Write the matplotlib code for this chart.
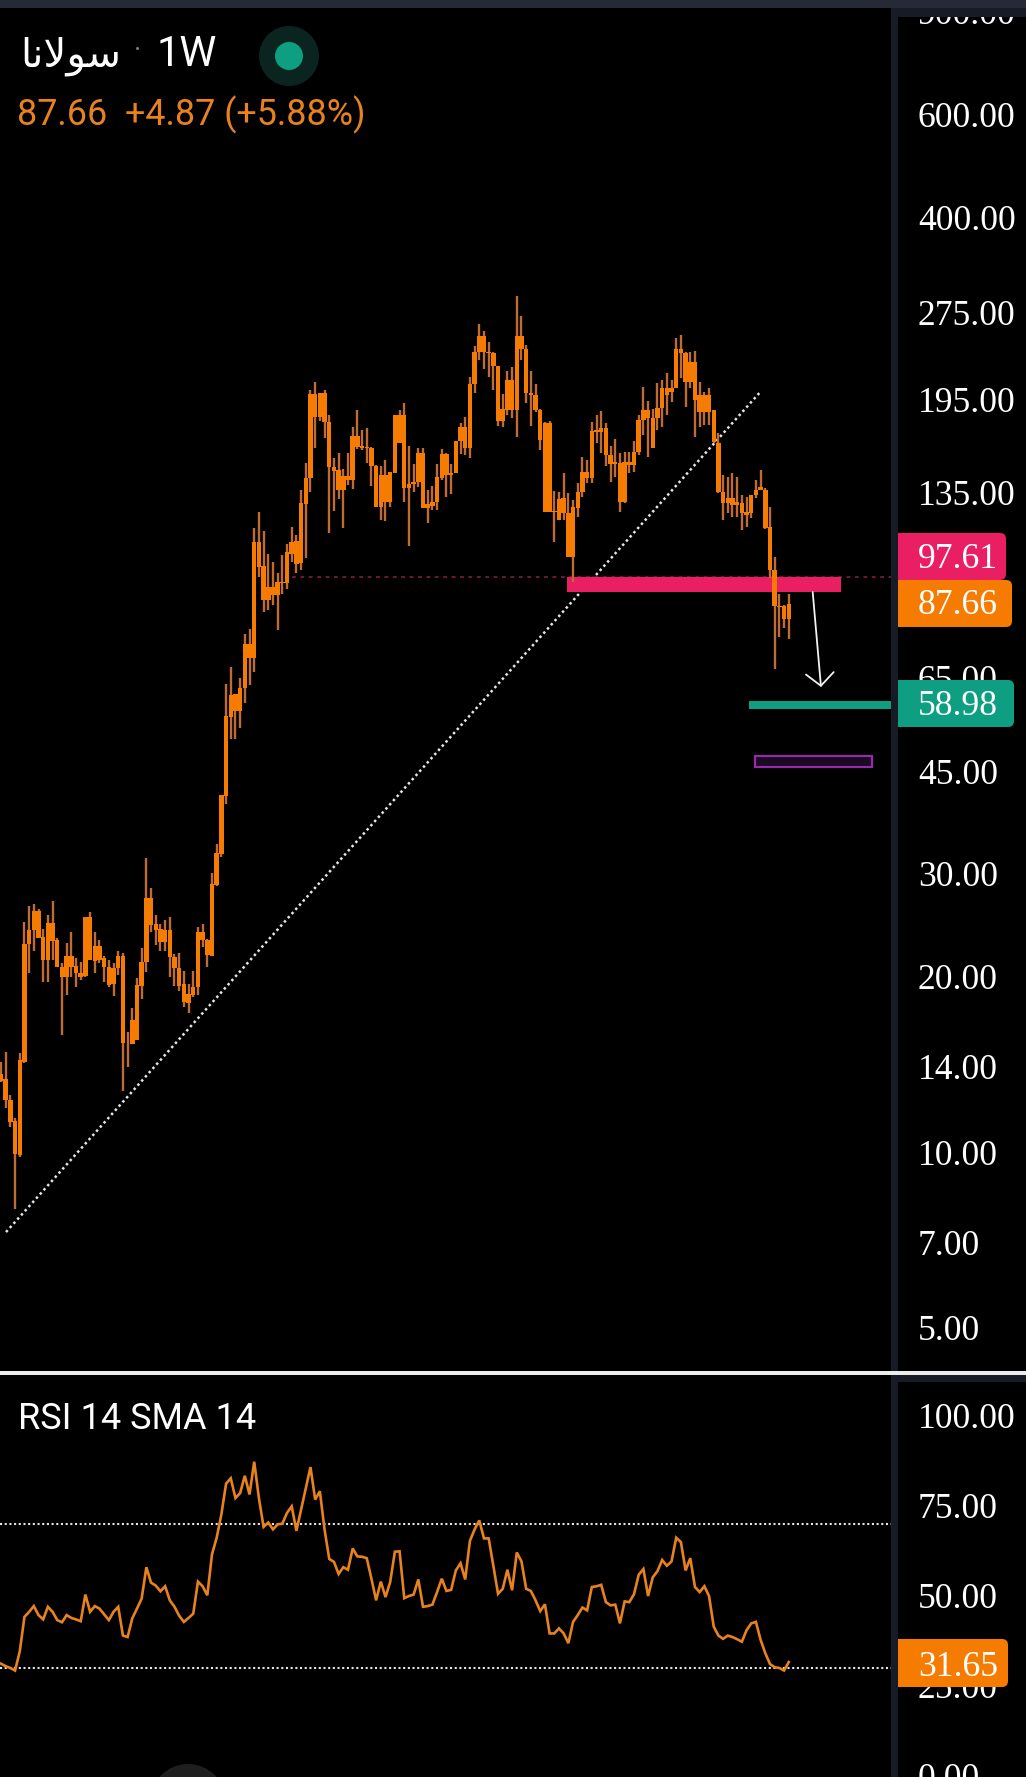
import numpy as np
import matplotlib
matplotlib.use("Agg")
import matplotlib.pyplot as plt
from matplotlib.patches import Rectangle, FancyBboxPatch, Circle
from matplotlib.ticker import NullLocator

highs = [14.3,14.87,12.55,11.43,14.82,24.84,26.4,26.63,26.08,24.1,
25.5,26.99,23.26,21.08,22.87,23.8,21.5,21.2,25.34,25.77,
23.88,23.1,21.7,21.36,21.08,22.14,21.97,16.05,17.65,19.87,
22.36,31.9,28.33,25.5,24.6,25.0,25.34,21.87,21.93,20.48,
19.42,20.48,24.35,24.6,23.17,30.1,33.7,40.9,63.4,67.8,
61.0,65.0,77.3,78.8,117.2,125.1,116.1,106.1,102.7,98.4,
105.3,110.0,117.9,114.0,136.6,151.4,202,208.9,200.1,202,
183.2,154.5,158,147.9,157.8,175,186.8,172.7,173.8,161.7,
150.4,149.9,153.4,146.5,183.2,186.8,192.3,162.1,151,160.7,
161,136.6,138.5,151,160,157.8,151,165.5,177.6,181.9,
213,240.4,262.5,254.8,244,235,222.2,199.3,218,221.3,
292.9,271,241.5,218,207,187.9,178.3,178.9,135.6,135.1,
146,134.9,131,139.9,155.5,153.4,178.5,183.2,186.4,177.3,
161.9,166.6,157.6,158.7,158.7,165.6,183.2,205,193.7,187.6,
207.7,210.5,216.6,210.5,248,251.1,235.4,235.4,236.3,209,
201,203.7,187.1,170.5,144.6,143.7,145.6,143.7,133.6,132.7,
133.6,141.6,147.5,137.2,127.3,104.8,90.5,86.6,90.5]

body_tops = [13.63,13.35,12.3,11.33,14.39,22.75,24.04,25.94,25.94,23.35,
24.75,24.75,23.1,20.8,21.7,21.7,20.86,20.32,25.28,25.25,
22.57,22.57,21.5,20.75,20.67,21.7,21.7,15.4,16.86,19.35,
21.22,27.24,27.24,24.6,24.1,24.04,24.04,21.58,20.67,19.42,
18.67,19.22,23.88,23.8,23.1,28.8,32.5,40.9,55.9,60.7,
61.0,62.4,74.3,74.3,111.1,111.1,100.9,92.9,92.9,94.9,
94.9,106.8,111.1,111.5,129.3,142.7,199.3,199.3,200.1,200.1,
178.3,149.5,147.6,144.2,144.2,168.5,168.5,162.1,161.7,161,
150,144.6,144.6,146.5,183.2,183.2,183.2,139.8,140.8,157.8,
157.8,128.8,130.1,143.3,157.4,157.4,145.9,165.5,175,175,
207.5,235,250.3,250.3,235,234.1,222.2,187.9,210.8,210.8,
250.3,250.3,238.2,200.1,198.1,187.2,177.3,177.3,125.3,131.8,
132,124.7,127.6,135.4,146.5,146.5,172.3,172.8,174,174,
156.6,152.5,151.5,152.5,152.5,158.7,179.7,187.1,187.1,180.9,
188.4,203.7,203.7,203.7,237.5,237.5,233.8,226.3,226.3,198.4,
198.4,198.4,186.6,164.2,135.4,132,132,130.2,129.4,125.2,
133.6,136.3,138.1,136.6,117.6,99.6,86.3,86.3,87]

body_bots = [13.25,12.3,11.28,9.93,9.9,14.3,22.75,24.04,23.26,21.36,
21.36,23.05,20.8,20.0,20.0,20.75,20.32,20.0,20.05,21.36,
21.3,21.36,20.75,19.35,19.42,20.67,15.4,15.37,15.33,15.55,
19.3,21.22,24.51,24.04,22.95,22.95,21.58,20.67,19.28,18.12,
18.05,18.6,19.22,23.1,21.78,21.7,28.7,32.4,40.8,55.7,
57.0,57.0,62.4,70.3,70.3,100.8,88.3,88.3,90.1,90.1,
94.5,94.5,106.1,102.0,102.3,128.8,142.7,181.9,181.9,178.3,
149.5,147.2,136.6,136.6,141.7,141.7,161.7,161,160.7,149.9,
127.5,127.5,130.1,130.1,145.9,164.2,137.5,137.5,139.8,140.8,
127.1,127.1,128.1,130.1,142.7,144.6,144.6,145.9,165.5,160.7,
160.7,207.5,235,235,234.1,222.2,178.9,178.9,186.8,186.8,
186.8,238.2,200.1,198.1,186.8,166.3,125,125,125,121.3,
124.4,104.5,104.5,126.8,135.4,142.7,142.7,171.6,171.6,156.6,
151.1,151.1,130.2,130.2,150.5,150.5,158.7,179.7,180.9,160.8,
180.9,188.4,198.4,200.5,203.7,233.8,209,209,194.5,185.6,
185.6,185.6,164.9,135.4,129.4,129.4,128.5,128.5,124.4,123.5,
124.4,133.6,136.3,117.2,99.4,86.3,85.8,82.1,82.1]

lows = [13.22,11.9,11.04,8.0,9.82,14.24,20.27,22.14,23.26,19.61,
19.61,21.36,20.8,15.9,18.6,20.0,19.22,19.74,20.0,21.36,
20.27,21.13,19.61,19.22,18.55,20.14,12.76,14.0,15.33,15.55,
18.29,20.4,23.88,22.65,22.14,22.14,19.95,19.28,18.93,17.72,
17.31,18.48,18.6,22.45,20.8,21.7,28.6,32.06,39.5,51.1,
51.1,53.3,58.8,63.2,66.5,96.6,84.3,85.0,86.7,78.6,
90.4,92.3,102.7,98.2,99.4,104.4,135.4,161.0,178.9,167.2,
115.2,125.6,131.8,117.4,139,136.8,160.2,159.6,151.8,138.7,
127.5,121.3,120.5,127.5,145.9,164.2,130.1,109.5,135.1,137.9,
127.1,119.6,126.2,126.2,141.7,132.4,134.4,145.9,157.4,156.7,
154.5,199.7,227.4,220.1,213,202.3,175.4,175,183.2,181.2,
167.9,228,191.8,175.4,185.6,159.6,125,125,111.1,121.3,
121.1,104.5,94.9,122.7,132.7,139.9,139.9,163.9,157.6,149.9,
140.9,143.4,125.2,129.7,145.6,146.5,156.6,169.4,155.5,160.8,
172.8,174.7,183.2,193.2,203.7,211.9,189.4,203.7,167.8,174.9,
176.1,176.1,164.2,134.5,121.1,124.4,122.7,122.7,116.4,117.9,
121.9,132,136.3,116.7,96.2,67.2,76.4,79,75.6]

rsi = [31.2,30.5,30.0,29.3,34.6,44.2,45.6,47.2,44.7,43.5,
47.0,45.6,43.3,42.7,44.7,43.9,43.5,43.0,50.4,45.6,
47.2,46.5,44.9,43.3,45.6,47.0,39.0,38.6,43.8,46.5,
49.3,58.0,53.7,52.9,51.3,52.7,48.8,47.0,44.5,42.8,
43.9,45.1,54.0,52.7,50.2,61.6,66.2,72.7,81.2,82.7,
77.2,78.6,83.4,78.2,87.3,77.2,69.2,70.4,68.5,69.9,
70.1,73.1,74.9,68.1,74.0,80.0,85.8,76.8,79.1,68.5,
60.3,59.5,56.1,58.0,57.3,63.2,61.0,60.9,60.5,54.8,
48.8,54.0,49.7,53.9,62.3,62.4,49.4,50.0,50.4,54.6,
47.0,47.2,47.6,51.1,54.8,51.4,51.7,57.1,59.1,54.6,
65.3,68.5,71.0,66.0,66.0,58.4,50.6,52.0,57.3,51.6,
62.1,59.6,52.0,51.4,48.8,45.8,47.7,39.6,39.6,41.0,
39.6,36.9,42.8,44.7,46.8,46.0,52.5,52.7,53.1,48.3,
47.4,47.6,42.4,48.5,48.3,50.5,55.9,57.5,50.0,55.2,
56.9,60.0,58.4,59.6,66.2,65.0,57.1,60.5,52.5,51.1,
52.7,50.0,41.5,39.0,38.1,39.0,38.6,38.0,37.3,40.5,
42.4,42.8,37.8,34.1,31.1,30.2,30.0,29.3,31.65]

price_ticks = [900, 600, 400, 275, 195, 135, 65, 45, 30, 20, 14, 10, 7, 5]
price_labels = ["900.00","600.00","400.00","275.00","195.00","135.00","65.00","45.00",
                "30.00","20.00","14.00","10.00","7.00","5.00"]
rsi_ticks = [100, 75, 50, 25, 0]
rsi_labels = ["100.00","75.00","50.00","25.00","0.00"]
rsi_levels = [70, 30]
trend_x = [1.07, 161.9]
trend_p = [7.3, 200.6]
zone_red = (96.9, 91.2)      # price band of the pink box
zone_green = (59.3, 57.5)
zone_purple = (47.7, 45.7)
red_line = 96.9
tag_red, tag_last, tag_green, tag_rsi = "97.61", "87.66", "58.98", "31.65"

W, H = 1026, 1777
ORANGE = "#F57C00"
WICK = "#BE6C33"
RSI_C = "#E8821E"
PINK = "#E91E63"
GREEN = "#0E9F83"
BAND = "#161B26"
AX_FONT = "Liberation Serif"
AX_SIZE = 25.6

fig = plt.figure(figsize=(W/100, H/100), dpi=100, facecolor="black")
def pane(x0, y0, x1, y1, z=1):
    return fig.add_axes([x0/W, 1-y1/H, (x1-x0)/W, (y1-y0)/H], zorder=z)

STEP, X0, RIGHT = 4.689, 1.0, 890.7
xlim = ((0-X0)/STEP, (RIGHT-X0)/STEP)
def price_at(y):
    return 5*np.exp((1328-y)/253.5)
def rsi_at(y):
    return 100-(y-1416)/3.6

# price pane
ax = pane(0, 8, RIGHT, 1371)
ax.set_facecolor("black")
ax.set_yscale("log")
ax.set_xlim(*xlim)
ax.set_ylim(price_at(1371), price_at(8))
idx = np.arange(len(highs))
assert len(highs)==len(lows)==len(body_tops)==len(body_bots)==len(rsi)==169

ax.plot(trend_x, trend_p, color="#E6E6E6", lw=1.8, ls=(0,(1,1.25)), zorder=1)
ax.hlines(red_line, (292-X0)/STEP, xlim[1], color="#8C1F4A", lw=1.1, ls=(0,(2.5,3.0)), zorder=1)
ax.bar((567-X0)/STEP, zone_red[0]-zone_red[1], bottom=zone_red[1], width=(841-567)/STEP, align="edge", color=PINK, lw=0, zorder=2)
ax.bar((749-X0)/STEP, zone_green[0]-zone_green[1], bottom=zone_green[1], width=(RIGHT-749)/STEP, align="edge", color=GREEN, lw=0, zorder=2)
ax.bar((755-X0)/STEP, zone_purple[0]-zone_purple[1], bottom=zone_purple[1], width=(872-755)/STEP, align="edge",
       facecolor="#1C0A24", edgecolor="#9C27B0", lw=1.5, zorder=2)
ax.vlines(idx, lows, highs, color=WICK, lw=1.7, zorder=3)
ax.bar(idx, np.array(body_tops)-np.array(body_bots), bottom=body_bots, width=0.95, color=ORANGE, lw=0, zorder=4)
ax.annotate("", xy=((821-X0)/STEP, price_at(687)), xytext=((812.7-X0)/STEP, price_at(592)),
            arrowprops=dict(arrowstyle="->,head_length=0.45,head_width=0.5", mutation_scale=20,
                            color="#F2F2F2", lw=1.3, shrinkA=0, shrinkB=0), zorder=5)

ax.yaxis.tick_right()
ax.set_yticks(price_ticks, labels=price_labels, fontfamily=AX_FONT, fontsize=AX_SIZE, color="white")
ax.yaxis.set_minor_locator(NullLocator())
ax.tick_params(axis="y", which="both", length=0, pad=19.5)
ax.set_xticks([])
for s in ax.spines.values():
    s.set_visible(False)

# RSI pane
ar = pane(0, 1375, RIGHT, H)
ar.set_facecolor("black")
ar.set_xlim(*xlim)
ar.set_ylim(rsi_at(H), rsi_at(1375))
for lv in rsi_levels:
    ar.axhline(lv, color="#E6E6E6", lw=1.5, ls=(0,(1,1.25)), zorder=1)
ar.plot(idx, rsi, color=RSI_C, lw=1.9, zorder=3, solid_joinstyle="miter")
ar.yaxis.tick_right()
ar.set_yticks(rsi_ticks, labels=rsi_labels, fontfamily=AX_FONT, fontsize=AX_SIZE, color="white")
ar.tick_params(axis="y", length=0, pad=19.5)
ar.set_xticks([])
for s in ar.spines.values():
    s.set_visible(False)

# screen furniture on a pixel layer
ov = fig.add_axes([0, 0, 1, 1], zorder=10)
ov.set_xlim(0, W); ov.set_ylim(H, 0); ov.axis("off"); ov.patch.set_alpha(0)
def tag(x1, y0, y1, color, text, ty):
    p = FancyBboxPatch((880, y0+6), x1-880-6, y1-y0-12, boxstyle="round,pad=6,rounding_size=6",
                       fc=color, ec="none", zorder=2)
    ov.add_patch(p)
    p.set_clip_path(Rectangle((898, 0), W-898, H, transform=ov.transData))
    ov.text(918, ty, text, family=AX_FONT, fontsize=AX_SIZE, color="white", va="center_baseline", ha="left", zorder=5)
ov.add_patch(Circle((188, 1802), 38, fc="#1E1E1E", ec="none", zorder=1))
tag(1006, 533, 580, PINK, tag_red, 555.5)
tag(1012, 580, 627, ORANGE, tag_last, 601.5)
tag(1014, 680, 727, GREEN, tag_green, 702.5)
tag(1008, 1639, 1687, ORANGE, tag_rsi, 1663)
ov.add_patch(Rectangle((RIGHT, 8), 898-RIGHT, H, fc=BAND, ec="none", zorder=3))
ov.add_patch(Rectangle((0, 0), W, 8, fc="#252A36", ec="none", zorder=3))
ov.add_patch(Rectangle((898, 8), W-898, 9, fc=BAND, ec="none", zorder=3))
ov.add_patch(Rectangle((898, 1372), W-898, 10, fc=BAND, ec="none", zorder=3))
ov.add_patch(Rectangle((0, 1371), W, 3.5, fc="#EDEDED", ec="none", zorder=4))

ov.text(20, 56, "\uFE8E\uFEE7\uFEFB\uFEEE\uFEB3", family="DejaVu Sans", fontsize=29, color="white", va="center", ha="left")
ov.text(138, 50, "·", family="Roboto", fontsize=20, color="#787B86", va="center", ha="center")
ov.text(157, 54, "1W", family="Roboto", fontsize=30, color="white", va="center", ha="left")
ov.add_patch(Circle((289, 56), 30, fc="#0A2420", ec="none", zorder=1))
ov.add_patch(Circle((289, 56), 14, fc=GREEN, ec="none", zorder=2))
ov.text(17, 115, "87.66  +4.87 (+5.88%)", family="Roboto", fontsize=25.8, color="#E8821E", va="center", ha="left")
ov.text(18, 1419, "RSI 14 SMA 14", family="Roboto", fontsize=26, color="white", va="center", ha="left")

fig.savefig("out.png", dpi=100, facecolor="black")
